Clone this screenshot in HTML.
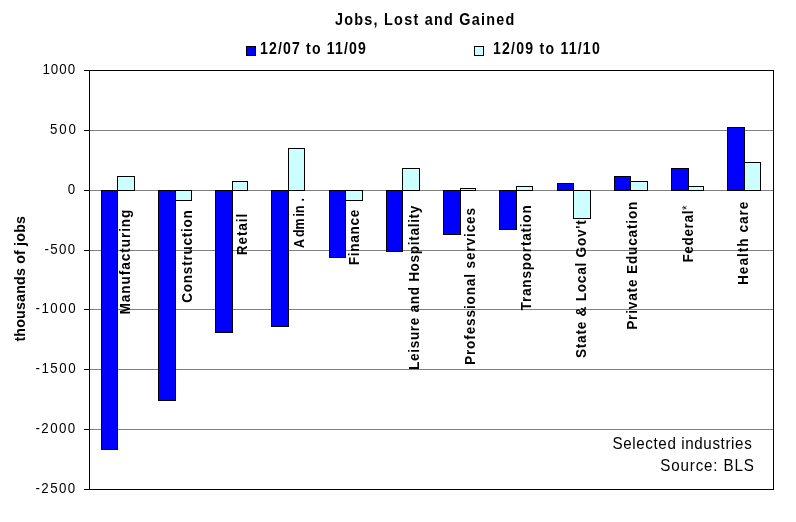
<!DOCTYPE html>
<html><head><meta charset="utf-8"><style>
html,body{margin:0;padding:0;background:#fff;width:796px;height:522px;overflow:hidden}
svg{display:block;will-change:transform}
text{font-family:"Liberation Sans",sans-serif;fill:#000}
</style></head><body>
<svg width="796" height="522" viewBox="0 0 796 522">
<rect x="0" y="0" width="796" height="522" fill="#fff"/>
<g id="shapes" shape-rendering="crispEdges">
<line x1="89" y1="130.5" x2="773" y2="130.5" stroke="#808080" stroke-width="1"/>
<line x1="89" y1="190.5" x2="773" y2="190.5" stroke="#808080" stroke-width="1"/>
<line x1="89" y1="250.5" x2="773" y2="250.5" stroke="#808080" stroke-width="1"/>
<line x1="89" y1="309.5" x2="773" y2="309.5" stroke="#808080" stroke-width="1"/>
<line x1="89" y1="369.5" x2="773" y2="369.5" stroke="#808080" stroke-width="1"/>
<line x1="89" y1="429.5" x2="773" y2="429.5" stroke="#808080" stroke-width="1"/>
<rect x="89.5" y="70.5" width="684" height="419" fill="none" stroke="#000" stroke-width="1"/>
<line x1="84" y1="70.5" x2="89" y2="70.5" stroke="#000" stroke-width="1"/>
<line x1="84" y1="130.5" x2="89" y2="130.5" stroke="#000" stroke-width="1"/>
<line x1="84" y1="190.5" x2="89" y2="190.5" stroke="#000" stroke-width="1"/>
<line x1="84" y1="250.5" x2="89" y2="250.5" stroke="#000" stroke-width="1"/>
<line x1="84" y1="309.5" x2="89" y2="309.5" stroke="#000" stroke-width="1"/>
<line x1="84" y1="369.5" x2="89" y2="369.5" stroke="#000" stroke-width="1"/>
<line x1="84" y1="429.5" x2="89" y2="429.5" stroke="#000" stroke-width="1"/>
<line x1="84" y1="489.5" x2="89" y2="489.5" stroke="#000" stroke-width="1"/>
<rect x="101.5" y="190.5" width="16" height="259" fill="#0000FF" stroke="#000" stroke-width="1"/>
<rect x="117.5" y="176.5" width="17" height="14" fill="#CCFFFF" stroke="#000" stroke-width="1"/>
<rect x="158.5" y="190.5" width="17" height="210" fill="#0000FF" stroke="#000" stroke-width="1"/>
<rect x="175.5" y="190.5" width="16" height="10" fill="#CCFFFF" stroke="#000" stroke-width="1"/>
<rect x="215.5" y="190.5" width="17" height="142" fill="#0000FF" stroke="#000" stroke-width="1"/>
<rect x="232.5" y="181.5" width="15" height="9" fill="#CCFFFF" stroke="#000" stroke-width="1"/>
<rect x="271.5" y="190.5" width="17" height="136" fill="#0000FF" stroke="#000" stroke-width="1"/>
<rect x="288.5" y="148.5" width="16" height="42" fill="#CCFFFF" stroke="#000" stroke-width="1"/>
<rect x="329.5" y="190.5" width="16" height="67" fill="#0000FF" stroke="#000" stroke-width="1"/>
<rect x="345.5" y="190.5" width="17" height="10" fill="#CCFFFF" stroke="#000" stroke-width="1"/>
<rect x="386.5" y="190.5" width="16" height="61" fill="#0000FF" stroke="#000" stroke-width="1"/>
<rect x="402.5" y="168.5" width="17" height="22" fill="#CCFFFF" stroke="#000" stroke-width="1"/>
<rect x="443.5" y="190.5" width="17" height="44" fill="#0000FF" stroke="#000" stroke-width="1"/>
<rect x="460.5" y="188.5" width="15" height="2" fill="#CCFFFF" stroke="#000" stroke-width="1"/>
<rect x="499.5" y="190.5" width="17" height="39" fill="#0000FF" stroke="#000" stroke-width="1"/>
<rect x="516.5" y="186.5" width="16" height="4" fill="#CCFFFF" stroke="#000" stroke-width="1"/>
<rect x="557.5" y="183.5" width="16" height="7" fill="#0000FF" stroke="#000" stroke-width="1"/>
<rect x="573.5" y="190.5" width="17" height="28" fill="#CCFFFF" stroke="#000" stroke-width="1"/>
<rect x="614.5" y="176.5" width="16" height="14" fill="#0000FF" stroke="#000" stroke-width="1"/>
<rect x="630.5" y="181.5" width="17" height="9" fill="#CCFFFF" stroke="#000" stroke-width="1"/>
<rect x="671.5" y="168.5" width="17" height="22" fill="#0000FF" stroke="#000" stroke-width="1"/>
<rect x="688.5" y="186.5" width="15" height="4" fill="#CCFFFF" stroke="#000" stroke-width="1"/>
<rect x="727.5" y="127.5" width="17" height="63" fill="#0000FF" stroke="#000" stroke-width="1"/>
<rect x="744.5" y="162.5" width="16" height="28" fill="#CCFFFF" stroke="#000" stroke-width="1"/>
<rect x="246.5" y="46.5" width="9" height="9" fill="#0000FF" stroke="#000"/>
<rect x="474.5" y="46.5" width="9" height="9" fill="#CCFFFF" stroke="#000"/>
</g>
<text id="title" font-weight="bold" font-size="16" textLength="199.22" lengthAdjust="spacing" transform="translate(335,25) scale(0.9,1)">Jobs, Lost and Gained</text>
<text id="leg1" font-weight="bold" font-size="16" textLength="120.2" lengthAdjust="spacing" transform="translate(260,54) scale(0.88,1)">12/07 to 11/09</text>
<text id="leg2" font-weight="bold" font-size="16" textLength="121.33" lengthAdjust="spacing" transform="translate(493,54) scale(0.88,1)">12/09 to 11/10</text>
<text id="ann1" font-weight="normal" font-size="16" textLength="146.57" lengthAdjust="spacing" transform="translate(612.5,449) scale(0.95,1)">Selected industries</text>
<text id="ann2" font-weight="normal" font-size="16" textLength="98.62" lengthAdjust="spacing" transform="translate(660.2,471) scale(0.95,1)">Source: BLS</text>
<text id="ytitle" font-weight="bold" font-size="15" textLength="132.16" lengthAdjust="spacing" transform="translate(25,341.6) rotate(-90) scale(0.95,1)">thousands of jobs</text>
<text id="y1000" font-weight="normal" font-size="15.5" textLength="38.18" lengthAdjust="spacing" transform="translate(42.4,74) scale(0.86,1)">1000</text>
<text id="y500" font-weight="normal" font-size="15.5" textLength="29.9" lengthAdjust="spacing" transform="translate(50.1,134) scale(0.86,1)">500</text>
<text id="y0" font-weight="normal" font-size="15.5" textLength="8.37" lengthAdjust="spacing" transform="translate(67.8,194) scale(0.86,1)">0</text>
<text id="y-500" font-weight="normal" font-size="15.5" textLength="35.88" lengthAdjust="spacing" transform="translate(44.4,254) scale(0.86,1)">-500</text>
<text id="y-1000" font-weight="normal" font-size="15.5" textLength="46.83" lengthAdjust="spacing" transform="translate(35.4,313) scale(0.86,1)">-1000</text>
<text id="y-1500" font-weight="normal" font-size="15.5" textLength="46.83" lengthAdjust="spacing" transform="translate(35.4,373) scale(0.86,1)">-1500</text>
<text id="y-2000" font-weight="normal" font-size="15.5" textLength="46.24" lengthAdjust="spacing" transform="translate(35.5,433) scale(0.86,1)">-2000</text>
<text id="y-2500" font-weight="normal" font-size="15.5" textLength="46.24" lengthAdjust="spacing" transform="translate(35.5,493) scale(0.86,1)">-2500</text>
<text id="c1" font-weight="bold" font-size="15.5" textLength="119.13" lengthAdjust="spacing" transform="translate(130.2,314.4) rotate(-90) scale(0.88,1)">Manufacturing</text>
<text id="c2" font-weight="bold" font-size="15.5" textLength="105.39" lengthAdjust="spacing" transform="translate(192,302.8) rotate(-90) scale(0.88,1)">Construction</text>
<text id="c3" font-weight="bold" font-size="15.5" textLength="47.03" lengthAdjust="spacing" transform="translate(247.2,255.2) rotate(-90) scale(0.88,1)">Retail</text>
<text id="c4" font-weight="bold" font-size="15.5" transform="translate(304.2,248) rotate(-90) scale(0.8,1)">A<tspan dx='2.5'>dm</tspan><tspan dx='2.5'>in</tspan><tspan dx='5'>.</tspan></text>
<text id="c5" font-weight="bold" font-size="15.5" textLength="63.15" lengthAdjust="spacing" transform="translate(358.9,265.2) rotate(-90) scale(0.88,1)">Finance</text>
<text id="c6" font-weight="bold" font-size="15.5" textLength="186.78" lengthAdjust="spacing" transform="translate(418.7,370.0) rotate(-90) scale(0.88,1)">Leisure and Hospitality</text>
<text id="c7" font-weight="bold" font-size="15.5" textLength="178.49" lengthAdjust="spacing" transform="translate(475,365) rotate(-90) scale(0.88,1)">Professional services</text>
<text id="c8" font-weight="bold" font-size="15.5" textLength="119.5" lengthAdjust="spacing" transform="translate(530.7,310.4) rotate(-90) scale(0.88,1)">Transportation</text>
<text id="c9" font-weight="bold" font-size="15.5" textLength="156.62" lengthAdjust="spacing" transform="translate(585.7,358.0) rotate(-90) scale(0.88,1)">State &amp; Local Gov't</text>
<text id="c10" font-weight="bold" font-size="15.5" textLength="145.62" lengthAdjust="spacing" transform="translate(637,329.8) rotate(-90) scale(0.88,1)">Private Education</text>
<text id="c11" font-weight="bold" font-size="15.5" textLength="64.89" lengthAdjust="spacing" transform="translate(692.6,262.6) rotate(-90) scale(0.88,1)">Federal<tspan font-weight='normal' font-size='13' dy='-2'>*</tspan></text>
<text id="c12" font-weight="bold" font-size="15.5" textLength="94.82" lengthAdjust="spacing" transform="translate(748.3,285) rotate(-90) scale(0.88,1)">Health care</text>
</svg></body></html>
